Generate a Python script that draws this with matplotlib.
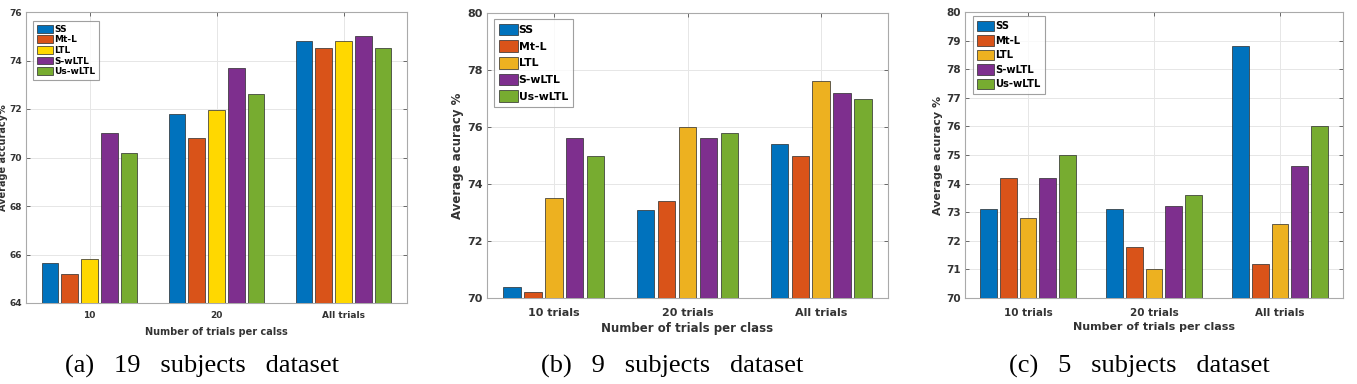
import matplotlib
matplotlib.use("Agg")
import matplotlib.pyplot as plt
import numpy as np

methods = ["SS", "Mt-L", "LTL", "S-wLTL", "Us-wLTL"]

# Panel (a): 19 subjects
cats_a = ["10", "20", "All trials"]
a_SS = [65.65, 71.8, 74.8]
a_MtL = [65.2, 70.8, 74.5]
a_LTL = [65.8, 71.95, 74.8]
a_SwLTL = [71.0, 73.7, 75.0]
a_UswLTL = [70.2, 72.6, 74.5]

# Panel (b): 9 subjects
cats_b = ["10 trials", "20 trials", "All trials"]
b_SS = [70.4, 73.1, 75.4]
b_MtL = [70.2, 73.4, 75.0]
b_LTL = [73.5, 76.0, 77.6]
b_SwLTL = [75.6, 75.6, 77.2]
b_UswLTL = [75.0, 75.8, 77.0]

# Panel (c): 5 subjects
cats_c = ["10 trials", "20 trials", "All trials"]
c_SS = [73.1, 73.1, 78.8]
c_MtL = [74.2, 71.8, 71.2]
c_LTL = [72.8, 71.0, 72.6]
c_SwLTL = [74.2, 73.2, 74.6]
c_UswLTL = [75.0, 73.6, 76.0]

colors_a = ["#0072BD", "#D95319", "#FFD800", "#7E2F8E", "#77AC30"]
colors_bc = ["#0072BD", "#D95319", "#EDB120", "#7E2F8E", "#77AC30"]

W, H = 1357, 384
fig = plt.figure(figsize=(W / 100, H / 100), dpi=100)
fig.patch.set_facecolor("white")

def px_axes(l, t, r, b):
    return fig.add_axes([l / W, 1 - b / H, (r - l) / W, (b - t) / H])

def draw(ax, cats, series, colors, ylim, yticks, ylabel, xlabel, tickfs,
         xpad, xlabpad, leg):
    x = np.arange(1, len(cats) + 1)
    n = len(series)
    step = 0.156
    width = 0.13
    for i, (vals, col, name) in enumerate(zip(series, colors, methods)):
        ax.bar(x + (i - (n - 1) / 2) * step, vals, width=width, color=col,
               edgecolor="#2a2a2a", linewidth=0.5, label=name, zorder=3)
    ax.set_xlim(0.5, len(cats) + 0.5)
    ax.set_ylim(*ylim)
    ax.set_yticks(yticks)
    ax.set_xticks(x)
    ax.set_xticklabels(cats, fontsize=tickfs, fontweight="bold", color="#333333")
    ax.set_yticklabels([str(v) for v in yticks], fontsize=tickfs, fontweight="bold", color="#333333")
    ax.grid(True, color="#e6e6e6", linewidth=0.7, zorder=0)
    ax.set_axisbelow(True)
    ax.tick_params(direction="in", length=3, width=0.6, color="#555555", pad=3,
                   top=True, right=True)
    ax.tick_params(axis="x", pad=xpad)
    for s in ax.spines.values():
        s.set_color("#aaaaaa")
        s.set_linewidth(0.8)
    ax.set_ylabel(ylabel, fontsize=tickfs + 0.5, fontweight="bold", color="#333333", labelpad=2)
    ax.set_xlabel(xlabel, fontsize=tickfs + 0.5, fontweight="bold", color="#333333", labelpad=xlabpad)
    fs, anchor, hl, hh, ls = leg
    lg = ax.legend(loc="upper left", bbox_to_anchor=anchor,
                   prop={"weight": "bold", "size": fs},
                   frameon=True, fancybox=False, edgecolor="#888888",
                   handlelength=hl, handleheight=hh, handletextpad=0.1,
                   labelspacing=ls, borderpad=0.45, borderaxespad=0)
    lg.get_frame().set_linewidth(0.8)
    return ax

ax1 = px_axes(26, 12, 407, 303)
draw(ax1, cats_a, [a_SS, a_MtL, a_LTL, a_SwLTL, a_UswLTL], colors_a,
     (64, 76), [64, 66, 68, 70, 72, 74, 76], "Average accuracy%",
     "Number of trials per calss", 6.5, 6, 5,
     (6.5, (0.018, 0.97), 1.8, 0.95, 0.18))
ax1.yaxis.set_label_coords(-0.048, 0.5)

ax2 = px_axes(487, 13, 888, 298)
draw(ax2, cats_b, [b_SS, b_MtL, b_LTL, b_SwLTL, b_UswLTL], colors_bc,
     (70, 80), [70, 72, 74, 76, 78, 80], "Average acuracy %",
     "Number of trials per class", 8, 7, 3,
     (7.8, (0.017, 0.98), 1.75, 1.3, 0.45))

ax3 = px_axes(965, 12, 1343, 298)
draw(ax3, cats_c, [c_SS, c_MtL, c_LTL, c_SwLTL, c_UswLTL], colors_bc,
     (70, 80), list(range(70, 81)), "Average acuracy %",
     "Number of trials per class", 7.5, 7, 3,
     (7.2, (0.02, 0.985), 1.7, 1.2, 0.4))

captions = [("(a)   19   subjects   dataset", 202), ("(b)   9   subjects   dataset", 672),
            ("(c)   5   subjects   dataset", 1139)]
for txt, cx in captions:
    fig.text(cx / W, 1 - 366 / H, txt, ha="center", va="center",
             fontsize=19, family="Liberation Serif")

fig.savefig("out.png", dpi=100)
